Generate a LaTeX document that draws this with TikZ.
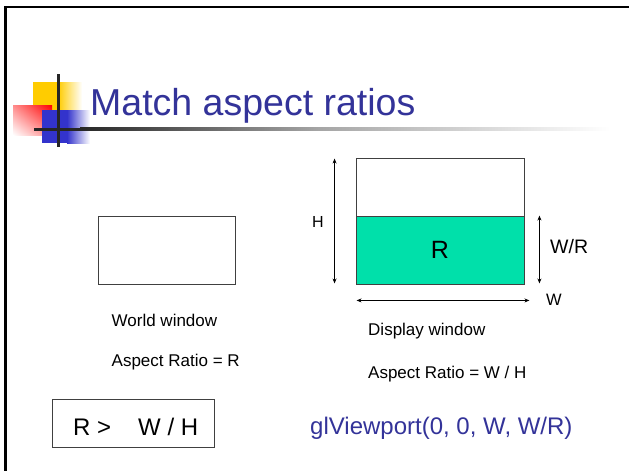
\documentclass[tikz,border=0pt]{standalone}
\usepackage{fontspec}
\setmainfont{Liberation Sans}
\usetikzlibrary{arrows.meta,shadings}
\definecolor{titleblue}{RGB}{51,51,153}
\definecolor{logoyellow}{RGB}{255,204,0}
\definecolor{logored}{RGB}{255,0,0}
\definecolor{logoblue}{RGB}{51,51,204}
\definecolor{fillgreen}{RGB}{0,224,170}
\definecolor{rule}{RGB}{64,64,64}
\newcommand{\fsz}[1]{\fontsize{#1}{#1}\selectfont}
\tikzset{
  lbl/.style={inner sep=0pt, anchor=base west, text=black},
  winbox/.style={draw=rule, line width=0.9pt, inner sep=0pt},
  dimarrow/.style={line width=0.7pt, {Stealth[length=5pt,width=4pt]}-{Stealth[length=5pt,width=4pt]}},
}
\begin{document}
\begin{tikzpicture}[x=1pt,y=-1pt]
\useasboundingbox (0,0) rectangle (629,471);
% frame lines
\fill[black] (4,5.5) rectangle (629,8.3);
\fill[black] (4,5.5) rectangle (6.8,471);
% logo
\fill[logoyellow] (33,82) rectangle (58,110);
\shade[left color=logoyellow, right color=white] (58,82) rectangle (82,110);
\shade[upper left=red!45, upper right=logored, lower left=white, lower right=red!45] (13,105) rectangle (52,135);
\fill[logoblue] (42,110) rectangle (67,143);
\shade[left color=logoblue, right color=white] (67,110) rectangle (90,143);
\fill[black!85] (34,127.5) rectangle (80,130.5);
\shade[left color=black!85, right color=black!35] (80,127.5) rectangle (320,130.5);
\shade[left color=black!35, right color=white] (320,127.5) rectangle (610,130.5);
\fill[black!85] (56.5,74) rectangle (59.5,147);
% title
\node[lbl, text=titleblue, font=\fsz{37.5}] (title) at (90,115) {Match aspect ratios};
% world window
\node[winbox, minimum width=137pt, minimum height=68pt] (world) at (166.5,250) {};
\node[lbl, font=\fsz{17}] (wlabel) at (111.5,326) {World window};
\node[lbl, font=\fsz{17}] (wratio) at (111.5,366) {Aspect Ratio = R};
% display window
\node[winbox, minimum width=168pt, minimum height=126pt] (disp) at (440,221) {};
\node[winbox, fill=fillgreen, minimum width=168pt, minimum height=68pt, font=\fsz{25}] (green) at (440,250) {R};
\coordinate (hTop) at ([xshift=-21pt,yshift=-1pt]disp.north west);
\coordinate (hBot) at ([xshift=-21pt,yshift=1pt]disp.south west);
\draw[dimarrow] (hTop) -- (hBot);
\node[lbl, font=\fsz{16}] (hlabel) at (312,227) {H};
\coordinate (wrTop) at ([xshift=15pt]green.north east);
\coordinate (wrBot) at ([xshift=15pt,yshift=1pt]green.south east);
\draw[dimarrow] (wrTop) -- (wrBot);
\node[lbl, font=\fsz{19.5}] (wrlabel) at (550,253) {W/R};
\coordinate (wL) at ([xshift=1pt,yshift=-16pt]disp.south west);
\coordinate (wR) at ([xshift=5pt,yshift=-16pt]disp.south east);
\draw[dimarrow] (wL) -- (wR);
\node[lbl, font=\fsz{16.5}] (wlabel2) at (546,305) {W};
\node[lbl, font=\fsz{17}] (dlabel) at (368,335) {Display window};
\node[lbl, font=\fsz{17}] (dratio) at (368,378) {Aspect Ratio = W / H};
% condition box
\node[winbox, minimum width=162pt, minimum height=48pt] (cond) at (133,423) {};
\node[lbl, font=\fsz{24}] (condtext) at (73,435) {R >\hspace{27pt}W / H};
% viewport call
\node[lbl, text=titleblue, font=\fsz{24}] (vp) at (310,434) {glViewport(0, 0, W, W/R)};
\end{tikzpicture}
\end{document}
